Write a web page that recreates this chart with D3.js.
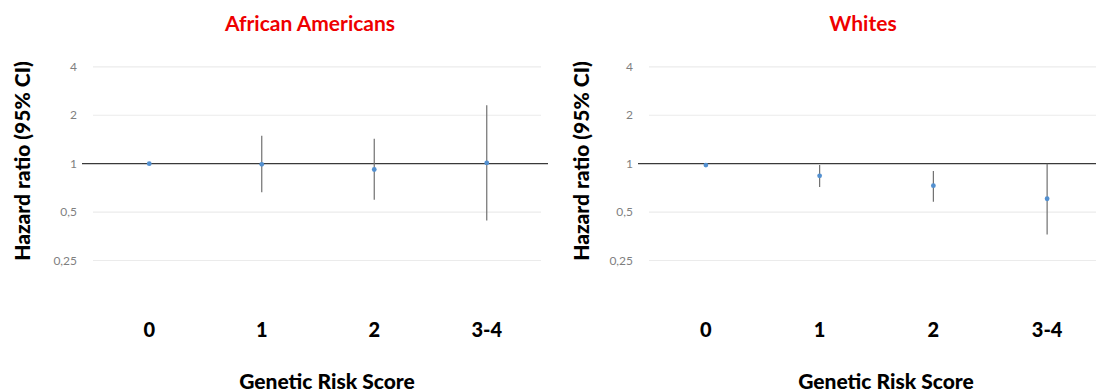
<!DOCTYPE html>
<html><head><meta charset="utf-8">
<script src="https://cdn.jsdelivr.net/npm/d3@7"></script>
<style>body{margin:0;background:#fff;} svg{display:block;font-family:Lato,"Open Sans",sans-serif;}</style>
</head><body>
<svg id="chart" width="1096" height="392"></svg>
<script>
const categories = ["0", "1", "2", "3-4"];
const yTicks = [0.25, 0.5, 1, 2, 4];
const yTickLabels = ["0,25", "0,5", "1", "2", "4"];
const panelTitles = ["African Americans", "Whites"];
const aaHR = [1.0, 0.99, 0.92, 1.01];
const aaLow = [null, 0.665, 0.596, 0.443];
const aaHigh = [null, 1.49, 1.43, 2.31];
const whHR = [0.98, 0.84, 0.73, 0.605];
const whLow = [null, 0.716, 0.58, 0.363];
const whHigh = [null, 0.98, 0.90, 1.0];

const svg = d3.select("#chart");
const panels = [
  {title: panelTitles[0], hr: aaHR, lo: aaLow, hi: aaHigh, x0: 93, x1: 543, lineX0: 82, lineX1: 548, labelX: 77, titleX: 310, yTitleX: 23, axisTitleX: 327},
  {title: panelTitles[1], hr: whHR, lo: whLow, hi: whHigh, x0: 649, x1: 1104, lineX0: 638, lineX1: 1104, labelX: 633, titleX: 863, yTitleX: 582, axisTitleX: 886}
];
const y = d3.scaleLog().base(2).domain([0.25, 4]).range([260.5, 66.8]);

panels.forEach(p => {
  const x = d3.scaleBand().domain(categories).range([p.x0, p.x1]);
  const g = svg.append("g");
  g.selectAll("line.grid").data(yTicks.filter(t => t !== 1)).enter().append("line")
    .attr("x1", p.x0).attr("x2", p.x1 - 2)
    .attr("y1", d => y(d)).attr("y2", d => y(d))
    .attr("stroke", "#ebebeb").attr("stroke-width", 1.2);
  g.selectAll("text.yl").data(yTicks).enter().append("text")
    .attr("x", p.labelX).attr("y", d => y(d))
    .attr("dy", "0.35em").attr("text-anchor", "end")
    .attr("font-size", 12).attr("fill", "#7f7f7f")
    .text((d, i) => yTickLabels[i]);
  g.append("line").attr("x1", p.lineX0).attr("x2", p.lineX1)
    .attr("y1", y(1)).attr("y2", y(1))
    .attr("stroke", "#3a3a3a").attr("stroke-width", 1.3);
  categories.forEach((c, i) => {
    if (p.lo[i] == null) return;
    g.append("line").attr("x1", x(c) + x.bandwidth()/2).attr("x2", x(c) + x.bandwidth()/2)
      .attr("y1", y(p.hi[i])).attr("y2", y(p.lo[i]))
      .attr("stroke", "#707070").attr("stroke-width", 1.2);
  });
  g.selectAll("circle").data(p.hr).enter().append("circle")
    .attr("cx", (d, i) => x(categories[i]) + x.bandwidth()/2)
    .attr("cy", d => y(d)).attr("r", 2.4).attr("fill", "#5390d0");
  g.selectAll("text.xl").data(categories).enter().append("text")
    .attr("x", d => x(d) + x.bandwidth()/2).attr("y", 330)
    .attr("dy", "0.35em").attr("text-anchor", "middle")
    .attr("font-size", 20).attr("font-weight", 900).attr("fill", "#000")
    .text(d => d);
  g.append("text").attr("x", p.axisTitleX).attr("y", 382).attr("dy", "0.35em")
    .attr("text-anchor", "middle").attr("font-size", 21).attr("font-weight", 900)
    .text("Genetic Risk Score");
  g.append("text").attr("transform", `translate(${p.yTitleX},161) rotate(-90)`)
    .attr("dy", "0.35em").attr("text-anchor", "middle")
    .attr("font-size", 21).attr("font-weight", 900)
    .text("Hazard ratio (95% CI)");
  g.append("text").attr("x", p.titleX).attr("y", 24).attr("dy", "0.35em")
    .attr("text-anchor", "middle").attr("font-size", 21).attr("font-weight", "bold")
    .attr("fill", "#ee0000").text(p.title);
});
</script>
</body></html>
